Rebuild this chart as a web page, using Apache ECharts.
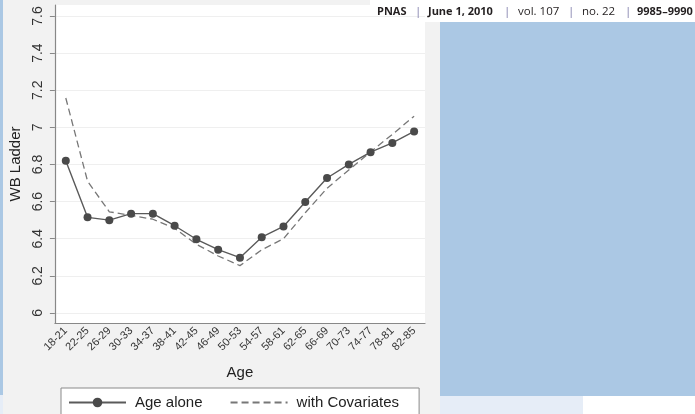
<!DOCTYPE html>
<html>
<head>
<meta charset="utf-8">
<script src="https://cdn.jsdelivr.net/npm/echarts@6/dist/echarts.min.js"></script>
<style>
  html, body { margin: 0; padding: 0; background: #f2f2f2; }
  #chart { width: 695px; height: 414px; }
</style>
</head>
<body>
<div id="chart"></div>
<script>
// Age groups on the horizontal axis
const ageGroups = ['18-21', '22-25', '26-29', '30-33', '34-37', '38-41', '42-45', '46-49',
  '50-53', '54-57', '58-61', '62-65', '66-69', '70-73', '74-77', '78-81', '82-85'];

// Mean well-being ladder score by age group
const ageAlone = [6.82, 6.515, 6.50, 6.535, 6.535, 6.47, 6.397, 6.341, 6.298,
  6.408, 6.466, 6.598, 6.727, 6.80, 6.866, 6.916, 6.978];

// Same, adjusted for covariates
const withCovariates = [7.158, 6.71, 6.545, 6.526, 6.505, 6.456, 6.37, 6.307, 6.255,
  6.34, 6.40, 6.54, 6.672, 6.77, 6.868, 6.962, 7.06];

// Labelled ticks on the ladder axis
const ladderTicks = [6, 6.2, 6.4, 6.6, 6.8, 7, 7.2, 7.4, 7.6];

// Running header pieces: [text, bold, x]
const headerParts = [
  ['PNAS', true, 377], ['|', false, 415], ['June 1, 2010', true, 428], ['|', false, 504],
  ['vol. 107', false, 518], ['|', false, 568], ['no. 22', false, 582], ['|', false, 625],
  ['9985–9990', true, 637]
];

const chart = echarts.init(document.getElementById('chart'), null, { renderer: 'canvas' });

const font = '"Liberation Sans", Arial, Helvetica, sans-serif';
const headFont = '"Open Sans", "Liberation Sans", sans-serif';

const headerTexts = headerParts.map(([txt, bold, x]) => ({
  type: 'text',
  z: 10,
  x: x,
  y: 12,
  style: {
    text: txt,
    font: (bold ? 'bold 11px ' : '11.5px ') + headFont,
    fill: txt === '|' ? '#7d7aa8' : '#231f20',
    textVerticalAlign: 'middle'
  }
}));

chart.setOption({
  backgroundColor: '#f2f2f2',
  animation: false,
  textStyle: { fontFamily: font },
  graphic: [
    { type: 'rect', z: -5, shape: { x: 370, y: 0, width: 325, height: 22 }, style: { fill: '#ffffff' } },
    { type: 'rect', z: -5, shape: { x: 440, y: 22, width: 255, height: 374 }, style: { fill: '#abc8e4' } },
    { type: 'rect', z: -5, shape: { x: 440, y: 396, width: 143, height: 18 }, style: { fill: '#e6edf7' } },
    { type: 'rect', z: -5, shape: { x: 583, y: 396, width: 112, height: 18 }, style: { fill: '#ffffff' } },
    { type: 'rect', z: -5, shape: { x: 0, y: 0, width: 3, height: 395 }, style: { fill: '#abc8e4' } },
    { type: 'rect', z: -5, shape: { x: 0, y: 395, width: 3, height: 19 }, style: { fill: '#e6edf7' } }
  ].concat(headerTexts),
  grid: {
    left: 53,
    top: 5,
    width: 372,
    height: 318,
    show: true,
    backgroundColor: '#ffffff',
    borderWidth: 0
  },
  legend: {
    left: 61,
    top: 388,
    width: 357,
    padding: [7, 20, 30, 7],
    backgroundColor: '#ffffff',
    borderColor: '#8a8a8a',
    borderWidth: 1,
    borderRadius: 0,
    itemWidth: 57,
    itemHeight: 12,
    itemGap: 27,
    textStyle: { fontFamily: font, fontSize: 15, color: '#222', padding: [0, 0, 0, 4] },
    data: ['Age alone', 'with Covariates']
  },
  xAxis: {
    type: 'category',
    data: ageGroups,
    boundaryGap: true,
    name: 'Age',
    nameLocation: 'middle',
    nameGap: 42,
    nameTextStyle: { fontFamily: font, fontSize: 15, color: '#222' },
    axisLine: { lineStyle: { color: '#888', width: 1.2 } },
    axisTick: { alignWithLabel: true, length: 5, lineStyle: { color: '#888' } },
    axisLabel: { rotate: 45, fontSize: 11, color: '#333', margin: 6, interval: 0 },
    splitLine: { show: false }
  },
  yAxis: {
    type: 'value',
    min: 5.946,
    max: 7.659,
    name: 'WB Ladder',
    nameLocation: 'middle',
    nameRotate: 90,
    nameGap: 28,
    nameTextStyle: { fontFamily: font, fontSize: 15, color: '#222' },
    axisLine: { show: true, lineStyle: { color: '#888', width: 1.2 } },
    axisTick: { show: true, length: 5, customValues: ladderTicks, lineStyle: { color: '#888' } },
    axisLabel: {
      customValues: ladderTicks,
      rotate: 90,
      fontSize: 14,
      color: '#333',
      margin: 10,
      align: 'center',
      verticalAlign: 'bottom'
    },
    splitLine: { show: true, lineStyle: { color: '#efefef', width: 1 } }
  },
  series: [
    {
      name: 'Age alone',
      type: 'line',
      data: ageAlone,
      symbol: 'circle',
      symbolSize: 8,
      itemStyle: { color: '#4a4a4a' },
      lineStyle: { color: '#5a5a5a', width: 1.4 },
      z: 3
    },
    {
      name: 'with Covariates',
      type: 'line',
      data: withCovariates,
      symbol: 'none',
      itemStyle: { color: '#777', opacity: 0 },
      lineStyle: { color: '#777', width: 1.3, type: [7, 4], opacity: 1 },
      z: 2
    }
  ]
});
</script>
</body>
</html>
